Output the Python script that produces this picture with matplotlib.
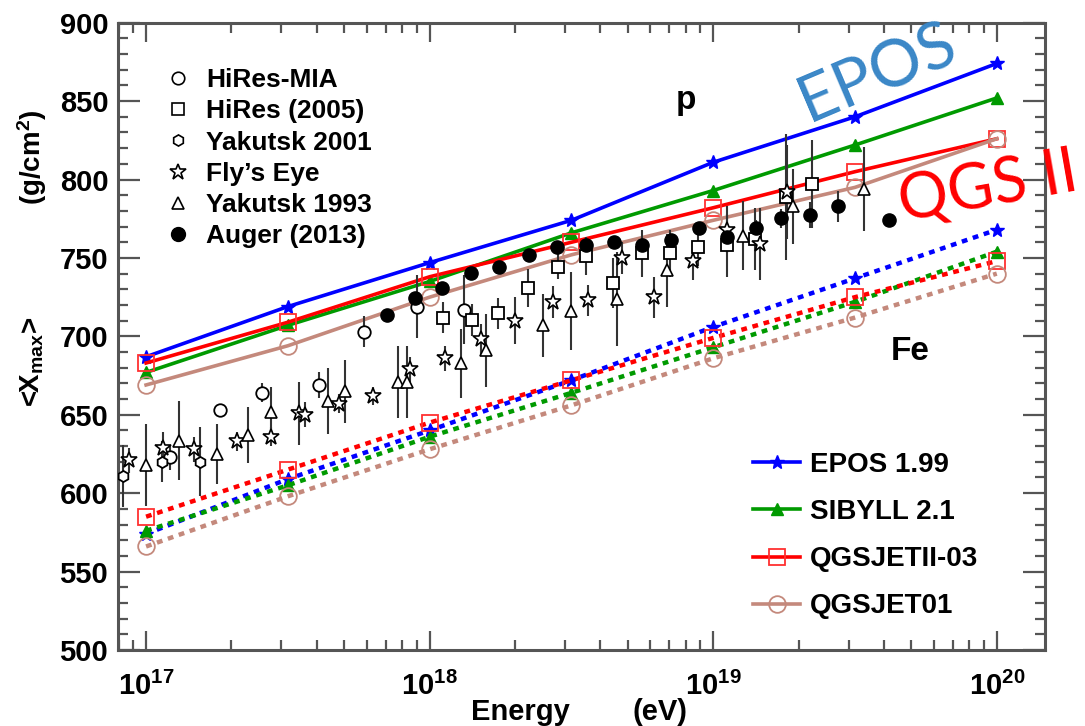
import numpy as np
import matplotlib
matplotlib.use('Agg')
import matplotlib.pyplot as plt
from matplotlib.lines import Line2D
from matplotlib.ticker import FixedLocator, LogLocator, MultipleLocator, NullFormatter

plt.rcParams['font.family'] = ['Liberation Sans', 'DejaVu Sans']
plt.rcParams['font.weight'] = 'bold'
plt.rcParams['mathtext.fontset'] = 'custom'
plt.rcParams['mathtext.rm'] = 'Liberation Sans:bold'
plt.rcParams['mathtext.it'] = 'Liberation Sans:bold'
plt.rcParams['mathtext.bf'] = 'Liberation Sans:bold'

# ---------------- data ----------------
model_logE = [17.0, 17.5, 18.0, 18.5, 19.0, 19.5, 20.0]
epos_p    = [687, 719, 747, 774, 811, 840, 874]
sibyll_p  = [677, 707, 735, 766, 793, 822, 852]
qgsii_p   = [683, 709, 738, 760, 782, 805, 826]
qgs01_p   = [669, 694, 725, 752, 774, 795, 826]
epos_fe   = [574, 609, 640, 672, 706, 737, 768]
sibyll_fe = [576, 605, 636, 664, 693, 722, 754]
qgsii_fe  = [585, 615, 645, 672, 699, 725, 748]
qgs01_fe  = [566, 598, 628, 656, 686, 712, 740]
model_names = ['EPOS 1.99', 'SIBYLL 2.1', 'QGSJETII-03', 'QGSJET01']

mia_logE = [17.085, 17.26, 17.41, 17.61, 17.77, 17.955, 18.12]
mia_x    = [623, 653, 664, 669, 703, 719, 717]
mia_err  = [8, 4, 6, 8, 10, 20, 22]

hires_logE = [18.046, 18.148, 18.242, 18.348, 18.454, 18.551, 18.648, 18.748,
              18.848, 18.948, 19.048, 19.147, 19.257, 19.347]
hires_x    = [712, 710.5, 714.7, 730.7, 744.5, 751.3, 734, 753, 753, 757, 758, 762, 789, 797]
hires_err  = [10, 10, 10, 12, 8, 12, 16, 15, 15, 12, 20, 20, 40, 28]

yak01_logE = [16.92, 17.055, 17.19]
yak01_x    = [611, 620, 620]
yak01_err  = [20, 13, 22]

fly_logE = [16.94, 17.06, 17.17, 17.32, 17.44, 17.54, 17.56, 17.68, 17.80, 17.93, 18.054,
            18.18, 18.30, 18.436, 18.56, 18.68, 18.79, 18.93, 19.048, 19.165, 19.26]
fly_x    = [621, 629, 628, 633, 636, 651, 650, 657, 662, 679, 686,
            698, 710, 722, 723, 750, 725, 748, 768, 759, 792]
fly_err  = [8, 10, 8, 6, 6, 20, 8, 6, 6, 8, 8, 10, 15, 10, 10, 10, 13, 12, 15, 23, 30]

yak93_logE = [17.00, 17.116, 17.25, 17.36, 17.44, 17.64, 17.70, 17.89, 17.92, 18.11,
              18.20, 18.40, 18.50, 18.66, 18.836, 19.106, 19.28, 19.53]
yak93_x    = [618, 633.5, 625, 637, 652, 659, 665, 671, 671, 683, 691, 707, 716, 724,
              742, 764, 783, 794]
yak93_err  = [26, 25, 19, 18, 16, 21, 20, 23, 23, 22, 23, 20, 25, 30, 23, 22, 24, 27]

auger_logE = [17.85, 17.95, 18.045, 18.145, 18.245, 18.35, 18.45, 18.55, 18.65, 18.75,
              18.85, 18.95, 19.05, 19.15, 19.24, 19.34, 19.44, 19.62]
auger_x    = [713.6, 724.3, 730.7, 740.3, 744.5, 752, 757.2, 758.3, 760.4, 758.3,
              761.5, 769, 763.6, 769, 775.3, 777.4, 782.8, 774.2]
auger_err  = [3, 3, 3, 3, 3, 3, 3, 3, 3, 3, 3, 4, 4, 5, 6, 8, 10, 3]

data_names = ['HiRes-MIA', 'HiRes (2005)', 'Yakutsk 2001', "Fly\u2019s Eye", 'Yakutsk 1993', 'Auger (2013)']

# ---------------- figure ----------------
W, H = 1085, 726
fig = plt.figure(figsize=(W / 100, H / 100), dpi=100)
L, R, T, Bm = 118, 1045, 22.7, 650
ax = fig.add_axes([L / W, 1 - Bm / H, (R - L) / W, (Bm - T) / H])

def E(lst):
    return 10 ** np.asarray(lst, dtype=float)

frame = '#555555'

# experimental data
err_kw = dict(ecolor='#333333', elinewidth=1.5, capsize=0, linestyle='none', zorder=5)
ax.errorbar(E(mia_logE), mia_x, yerr=mia_err, fmt='o', ms=9, mfc='white', mec='black', mew=1.3, **err_kw)
ax.errorbar(E(hires_logE), hires_x, yerr=hires_err, fmt='s', ms=8, mfc='white', mec='black', mew=1.3, **err_kw)
ax.errorbar(E(yak01_logE), yak01_x, yerr=yak01_err, fmt='h', ms=8, mfc='white', mec='black', mew=1.3, **err_kw)
ax.errorbar(E(fly_logE), fly_x, yerr=fly_err, fmt='*', ms=12, mfc='white', mec='black', mew=1.2, **err_kw)
ax.errorbar(E(yak93_logE), yak93_x, yerr=yak93_err, fmt='^', ms=9, mfc='white', mec='black', mew=1.2, **err_kw)
ax.errorbar(E(auger_logE), auger_x, yerr=auger_err, fmt='o', ms=9.5, mfc='black', mec='black', **err_kw)

# models
mcolors = ['#0000ff', '#009a00', '#ff0000', '#c4897c']
mmarkers = [dict(marker='*', ms=10, mfc='#0000ff', mec='#0000ff'),
            dict(marker='^', ms=9, mfc='#009a00', mec='#009a00'),
            dict(marker='s', ms=12, mfc='none', mec='#ff3030', mew=1.3),
            dict(marker='o', ms=12, mfc='none', mec='#c4897c', mew=1.3)]
p_sets = [epos_p, sibyll_p, qgsii_p, qgs01_p]
fe_sets = [epos_fe, sibyll_fe, qgsii_fe, qgs01_fe]
model_handles = []
for i in range(4):
    ln, = ax.plot(E(model_logE), p_sets[i], color=mcolors[i], lw=2.6, zorder=3 + i * 0.1,
                  label=model_names[i], **mmarkers[i])
    model_handles.append(ln)
    ax.plot(E(model_logE), fe_sets[i], color=mcolors[i], lw=3.2, dashes=(1.3, 1.3),
            dash_capstyle='butt', zorder=3 + i * 0.1, **mmarkers[i])

# axes
ax.set_xscale('log')
ax.set_xlim(10 ** 16.901, 10 ** 20.170)
ax.set_ylim(500, 900)
ax.xaxis.set_major_locator(FixedLocator([1e17, 1e18, 1e19, 1e20]))
ax.xaxis.set_minor_locator(LogLocator(base=10, subs=np.arange(2, 10)))
ax.xaxis.set_minor_formatter(NullFormatter())
ax.set_xticklabels([r'$\mathbf{10^{17}}$', r'$\mathbf{10^{18}}$', r'$\mathbf{10^{19}}$', r'$\mathbf{10^{20}}$'])
ax.yaxis.set_major_locator(MultipleLocator(50))
ax.yaxis.set_minor_locator(MultipleLocator(10))
ax.tick_params(which='both', direction='in', top=True, right=True, colors=frame, width=1.6,
               labelcolor='black', labelsize=21)
ax.tick_params(axis='x', which='major', length=14, pad=16)
ax.tick_params(axis='x', which='minor', length=7)
ax.tick_params(axis='y', which='major', length=16, pad=7)
ax.tick_params(axis='y', which='minor', length=7)
for lab in ax.get_yticklabels():
    lab.set_fontweight('bold')
for s in ax.spines.values():
    s.set_color(frame)
    s.set_linewidth(2.2)

# legends
data_handles = [Line2D([], [], ls='none', marker='o', ms=9, mfc='white', mec='black', mew=1.2),
                Line2D([], [], ls='none', marker='s', ms=8, mfc='white', mec='black', mew=1.2),
                Line2D([], [], ls='none', marker='h', ms=8, mfc='white', mec='black', mew=1.2),
                Line2D([], [], ls='none', marker='*', ms=12, mfc='white', mec='black', mew=1.2),
                Line2D([], [], ls='none', marker='^', ms=9, mfc='white', mec='black', mew=1.2),
                Line2D([], [], ls='none', marker='o', ms=10, mfc='black', mec='black')]
leg1 = ax.legend(data_handles, data_names, loc='upper left', bbox_to_anchor=(165 / W, 1 - 68 / H),
                 bbox_transform=fig.transFigure, frameon=False, borderpad=0,
                 handlelength=1.0, handletextpad=0.55, labelspacing=0.275, borderaxespad=0,
                 prop={'weight': 'bold', 'size': 19})
ax.add_artist(leg1)
leg2 = ax.legend(model_handles, model_names, loc='upper left', bbox_to_anchor=(753 / W, 1 - 452 / H),
                 bbox_transform=fig.transFigure, frameon=False, borderpad=0, numpoints=1,
                 handlelength=1.7, handletextpad=0.36, labelspacing=0.76, borderaxespad=0,
                 prop={'weight': 'bold', 'size': 20})

# labels and annotations
def ft(x, y, s, **kw):
    fig.text(x / W, 1 - y / H, s, ha='center', va='center', **kw)

ft(520, 712, 'Energy', fontsize=21, fontweight='bold')
ft(660, 712, '(eV)', fontsize=21, fontweight='bold')
ft(32, 157, r'(g/cm$^{2}$)', fontsize=20, fontweight='bold', rotation=90)
ft(32, 362, r'<X$_{max}$>', fontsize=20, fontweight='bold', rotation=90)
ft(686, 100, 'p', fontsize=24, fontweight='bold')
ft(910, 352, 'Fe', fontsize=24, fontweight='bold')
ft(877, 73, 'EPOS', fontsize=47, color='#3a87c7', rotation=23, rotation_mode='anchor',
   family=['Lato', 'DejaVu Sans'], fontweight='normal')
ft(988, 188, 'QGS II', fontsize=45, color='#ff0000', rotation=10, rotation_mode='anchor',
   family=['Lato', 'DejaVu Sans'], fontweight='normal')

fig.savefig('out.png', dpi=100, facecolor='white')
